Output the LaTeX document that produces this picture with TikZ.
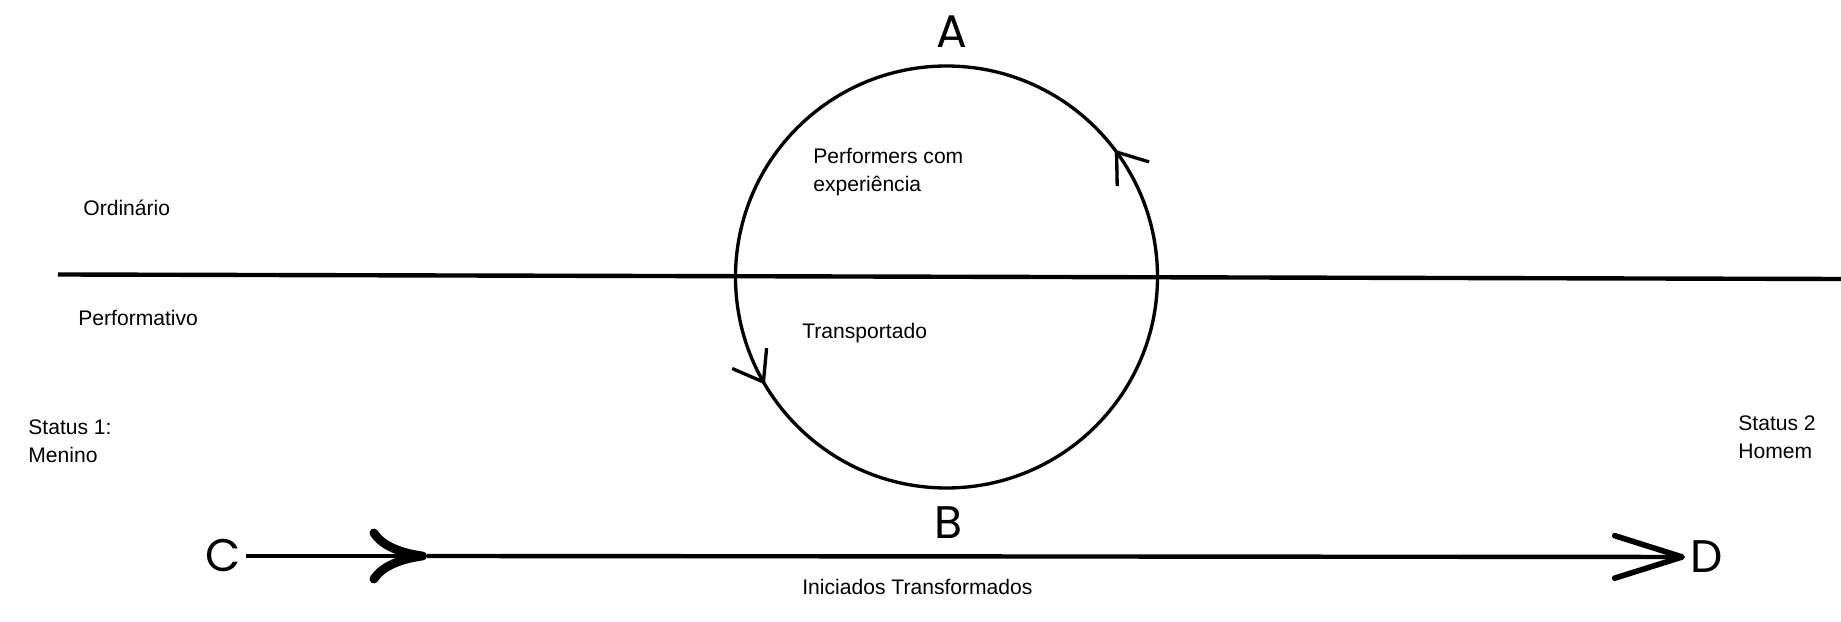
\documentclass[tikz,border=0pt]{standalone}
\usepackage{fontspec}
\setmainfont{Liberation Sans}
\newfontfamily\letrafont{Poppins}
\usetikzlibrary{arrows.meta,decorations.markings}

\begin{document}
\begin{tikzpicture}[
  rotulo/.style={anchor=west, align=left, inner sep=0pt, font=\fontsize{12}{16}\selectfont},
  letra/.style={inner sep=0.1cm, font=\letrafont\fontsize{26}{26}\selectfont},
  linha/.style={line width=2.5pt},
  ciclo/.style={line width=1.9pt, postaction={decorate}, decoration={markings,
    mark=at position 0.103 with {\arrow{Straight Barb[length=0.55cm,width=0.8cm]}},
    mark=at position 0.585 with {\arrow{Straight Barb[length=0.55cm,width=0.8cm]}}}}
]
\useasboundingbox (0,0) rectangle (36.82,12.44);

% linha ordinario / performativo
\coordinate (limE) at (1.16,6.95);
\coordinate (limD) at (36.82,6.86);
\draw[linha] (limE) -- (limD);

% ciclo
\draw[ciclo] (18.93,6.90) circle (4.22);

% letras
\node[letra] (A) at (19.04,11.80) {A};
\node[letra] (B) at (18.96,1.98) {B};
\node[letra] (C) at (4.46,1.32) {C};
\node[letra] (D) at (34.13,1.30) {D};

% linha C -> D
\coordinate (meio) at (8.54,1.32);
\draw[linha, -{Computer Modern Rightarrow[length=1.15cm,width=1.1cm,line width=5pt,round]}] (C) -- (meio);
\draw[linha, -{Straight Barb[length=1.35cm,width=0.85cm,line width=3.2pt,round]}] (meio) -- (D);

% textos
\node[rotulo] (ord) at (1.66,8.28) {Ordinário};
\node[rotulo] (perf) at (1.56,6.08) {Performativo};
\node[rotulo] (exp) at (16.26,9.00) {Performers com\\experiência};
\node[rotulo] (transp) at (16.04,5.78) {Transportado};
\node[rotulo] (inic) at (16.04,0.70) {Iniciados Transformados};
\node[rotulo] (st1) at (0.56,3.62) {Status 1:\\Menino};
\node[rotulo] (st2) at (34.76,3.70) {Status 2\\Homem};

\end{tikzpicture}
\end{document}
